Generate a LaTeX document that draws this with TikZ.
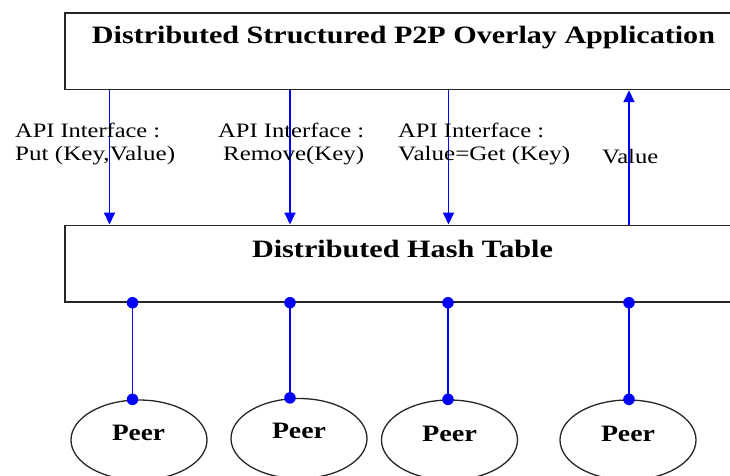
\documentclass[tikz,border=0pt]{standalone}
\usepackage{fontspec}
\setmainfont{Liberation Serif}
\usetikzlibrary{arrows.meta,shapes.geometric}
% set a text to a given width, keeping its height
\newcommand\fitto[2]{\resizebox{#1}{\height}{#2}}

\tikzset{
  boxline/.style={draw=black!85, line width=1.7pt},
  layer/.style={boxline, rectangle, anchor=north west, minimum width=700pt,
                minimum height=76.5pt, inner sep=0pt},
  peer/.style={draw=black!85, line width=1.3pt, ellipse, minimum width=136pt,
               minimum height=80pt, inner sep=0pt},
  peertext/.style={anchor=base, inner sep=0pt, font=\bfseries\fontsize{23.5}{26}\selectfont},
  title/.style={anchor=base, inner sep=0pt, font=\bfseries\fontsize{25}{28}\selectfont},
  lbl/.style={anchor=base west, inner sep=0pt, font=\fontsize{20.5}{24}\selectfont},
  call/.style={blue, line width=1.8pt, -{Triangle[length=12pt,width=11pt]}},
  link/.style={blue, line width=1.8pt},
  dot/.style={circle, fill=blue, inner sep=0pt, minimum size=11.5pt},
}

\begin{document}
\begin{tikzpicture}[x=1pt, y=-1pt]
  \useasboundingbox (0,0) rectangle (730,475);
  \clip (0,0) rectangle (730,475);

  % the two layers
  \node[layer] (app) at (64,12) {};
  \node[title] (apptitle) at (403.5,43.5) {\fitto{623pt}{Distributed Structured P2P Overlay Application}};
  \node[layer] (dht) at (64,224.5) {};
  \node[title] (dhttitle) at (402.5,257) {\fitto{301pt}{Distributed Hash Table}};

  % API calls between application and DHT
  \coordinate (c1) at (109.5,0);
  \coordinate (c2) at (290,0);
  \coordinate (c3) at (448.5,0);
  \coordinate (c4) at (629,0);
  \draw[call] (app.south -| c1) -- (dht.north -| c1);
  \draw[call] (app.south -| c2) -- (dht.north -| c2);
  \draw[call] (app.south -| c3) -- (dht.north -| c3);
  \draw[call] (dht.north -| c4) -- (app.south -| c4);

  \node[lbl] (l1a) at (15,137) {\fitto{145pt}{API Interface :}};
  \node[lbl] (l1b) at (15,160) {\fitto{160pt}{Put (Key,Value)}};
  \node[lbl] (l2a) at (218,137) {\fitto{146pt}{API Interface :}};
  \node[lbl] (l2b) at (223,160) {\fitto{141pt}{Remove(Key)}};
  \node[lbl] (l3a) at (398,137) {\fitto{146pt}{API Interface :}};
  \node[lbl] (l3b) at (398,160) {\fitto{172pt}{Value=Get (Key)}};
  \node[lbl] (l4) at (602,163) {\fitto{56pt}{Value}};

  % peers
  \node[peer] (p1) at (139,440) {};
  \node[peer] (p2) at (299,438.5) {};
  \node[peer] (p3) at (449.5,440) {};
  \node[peer] (p4) at (628,440) {};
  \node[peertext] (p1t) at (138.5,440.5) {\fitto{53pt}{Peer}};
  \node[peertext] (p2t) at (299,438) {\fitto{54pt}{Peer}};
  \node[peertext] (p3t) at (449.5,441) {\fitto{55pt}{Peer}};
  \node[peertext] (p4t) at (628,441) {\fitto{54pt}{Peer}};

  % attachment points of the peers on the DHT
  \coordinate (d1) at (132.5,0);
  \coordinate (d2) at (290,0);
  \coordinate (d3) at (448,0);
  \coordinate (d4) at (629,0);
  \foreach \i in {1,2,3,4} {
    \node[dot] (top\i) at (dht.south -| d\i) {};
    \node[dot] (bot\i) at (p\i.north -| d\i) {};
    \draw[link] (top\i.center) -- (bot\i.center);
  }
\end{tikzpicture}
\end{document}
